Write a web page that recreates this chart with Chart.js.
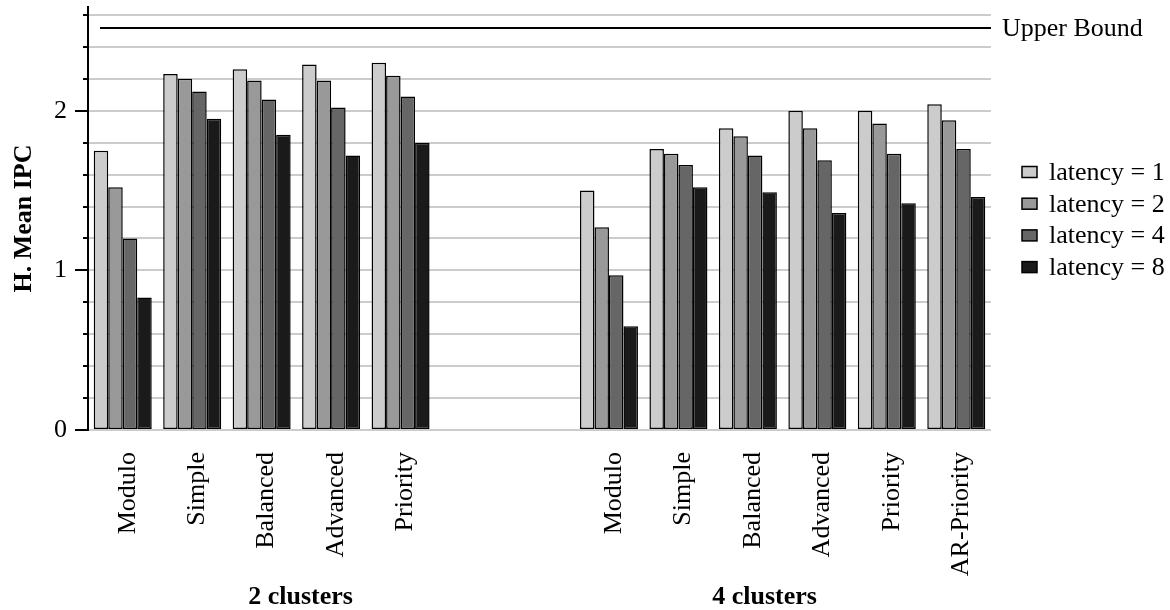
<!DOCTYPE html>
<html>
<head>
<meta charset="utf-8">
<script src="https://cdn.jsdelivr.net/npm/chart.js@4/dist/chart.umd.min.js"></script>
<style>
  html, body { margin: 0; padding: 0; background: #fff; }
  #wrap { width: 1170px; height: 610px; position: relative; }
</style>
</head>
<body>
<div id="wrap"><canvas id="c"></canvas></div>
<script>
// Scheduling policies per cluster configuration (two blank slots separate the groups)
const categories = ['Modulo', 'Simple', 'Balanced', 'Advanced', 'Priority', '', '',
                    'Modulo', 'Simple', 'Balanced', 'Advanced', 'Priority', 'AR-Priority'];

// Harmonic mean IPC for each inter-cluster communication latency
const latency1 = [1.75, 2.23, 2.26, 2.29, 2.30, null, null, 1.50, 1.76, 1.89, 2.00, 2.00, 2.04];
const latency2 = [1.52, 2.20, 2.19, 2.19, 2.22, null, null, 1.27, 1.73, 1.84, 1.89, 1.92, 1.94];
const latency4 = [1.20, 2.12, 2.07, 2.02, 2.09, null, null, 0.97, 1.66, 1.72, 1.69, 1.73, 1.76];
const latency8 = [0.83, 1.95, 1.85, 1.72, 1.80, null, null, 0.65, 1.52, 1.49, 1.36, 1.42, 1.46];

const seriesNames = ['latency = 1', 'latency = 2', 'latency = 4', 'latency = 8'];
const seriesColors = ['#cccccc', '#999999', '#666666', '#1a1a1a'];

const yTickValues = [0, 0.2, 0.4, 0.6, 0.8, 1, 1.2, 1.4, 1.6, 1.8, 2, 2.2, 2.4, 2.6];
const yTickLabels = ['0', '1', '2'];
const upperBound = 2.52;
const upperBoundLabel = 'Upper Bound';
const yTitle = 'H. Mean IPC';
const groupLabels = ['2 clusters', '4 clusters'];

const FONT = '"Liberation Serif", "Times New Roman", serif';
Chart.defaults.font.family = FONT;
Chart.defaults.font.size = 26;
Chart.defaults.color = '#000';

const seriesData = [latency1, latency2, latency4, latency8];

// Axis ticks, upper-bound line, group captions, axis title and legend
const decorations = {
  id: 'decorations',
  afterDatasetsDraw(chart) {
    const ctx = chart.ctx;
    const x = chart.scales.x, y = chart.scales.y;
    const area = chart.chartArea;
    ctx.save();

    // tick marks on the value axis
    ctx.strokeStyle = '#000';
    ctx.lineWidth = 2;
    yTickValues.forEach(v => {
      const py = Math.round(y.getPixelForValue(v));
      const major = Math.abs(v - Math.round(v)) < 1e-9;
      ctx.beginPath();
      ctx.moveTo(area.left - (major ? 13 : 5), py);
      ctx.lineTo(area.left, py);
      ctx.stroke();
    });

    // upper bound reference line
    const ub = Math.round(y.getPixelForValue(upperBound));
    ctx.beginPath();
    ctx.moveTo(area.left + 12, ub);
    ctx.lineTo(area.right, ub);
    ctx.stroke();
    ctx.font = '26px ' + FONT;
    ctx.fillStyle = '#000';
    ctx.textAlign = 'left';
    ctx.textBaseline = 'middle';
    ctx.fillText(upperBoundLabel, area.right + 11, ub + 1);

    // group captions under the category labels
    ctx.font = 'bold 26px ' + FONT;
    ctx.textAlign = 'center';
    ctx.textBaseline = 'alphabetic';
    ctx.fillText(groupLabels[0], x.getPixelForValue(2.56), 604);
    ctx.fillText(groupLabels[1], x.getPixelForValue(9.24), 604);

    // value axis title
    ctx.save();
    ctx.translate(24, (area.top + area.bottom) / 2);
    ctx.rotate(-Math.PI / 2);
    ctx.textBaseline = 'middle';
    ctx.fillText(yTitle, 0, 0);
    ctx.restore();

    // legend
    ctx.font = '26px ' + FONT;
    ctx.textAlign = 'left';
    ctx.textBaseline = 'middle';
    chart.data.datasets.forEach((ds, i) => {
      const cy = 172 + i * 31.7;
      ctx.fillStyle = ds.backgroundColor;
      ctx.fillRect(1022, cy - 5.5, 15, 11);
      ctx.strokeStyle = '#000';
      ctx.lineWidth = 1.5;
      ctx.strokeRect(1022, cy - 5.5, 15, 11);
      ctx.fillStyle = '#000';
      ctx.fillText(ds.label, 1049, cy + 1);
    });

    ctx.restore();
  }
};

new Chart(document.getElementById('c'), {
  type: 'bar',
  data: {
    labels: categories,
    datasets: seriesData.map((d, i) => ({
      label: seriesNames[i],
      data: d,
      backgroundColor: seriesColors[i],
      borderColor: '#000',
      borderWidth: 1.5,
      borderSkipped: false,
      categoryPercentage: 0.835,
      barPercentage: 1.0
    }))
  },
  options: {
    responsive: true,
    maintainAspectRatio: false,
    animation: false,
    devicePixelRatio: 1,
    layout: { padding: { top: 7, right: 179, left: 0, bottom: 0 } },
    plugins: { legend: { display: false }, tooltip: { enabled: false } },
    scales: {
      x: {
        grid: { display: false, drawTicks: false },
        border: { display: false },
        ticks: {
          autoSkip: false,
          minRotation: 90,
          maxRotation: 90,
          padding: 22,
          labelOffset: 5,
          font: { size: 26 }
        },
        afterFit(scale) {
          scale.height = 180;
          scale.paddingLeft = 0;
          scale.paddingRight = 0;
        }
      },
      y: {
        min: 0,
        max: 2.65,
        afterBuildTicks(scale) {
          scale.ticks = yTickValues.map(v => ({ value: v }));
        },
        ticks: {
          autoSkip: false,
          padding: 21,
          font: { size: 26 },
          callback(v) {
            const r = Math.round(v);
            return Math.abs(v - r) < 1e-9 ? yTickLabels[r] : '';
          }
        },
        grid: { color: '#cccccc', lineWidth: 2, drawTicks: false },
        border: { display: true, color: '#000', width: 2 },
        afterFit(scale) {
          scale.width = 88;
          scale.paddingTop = 0;
          scale.paddingBottom = 0;
        }
      }
    }
  },
  plugins: [decorations]
});
</script>
</body>
</html>
